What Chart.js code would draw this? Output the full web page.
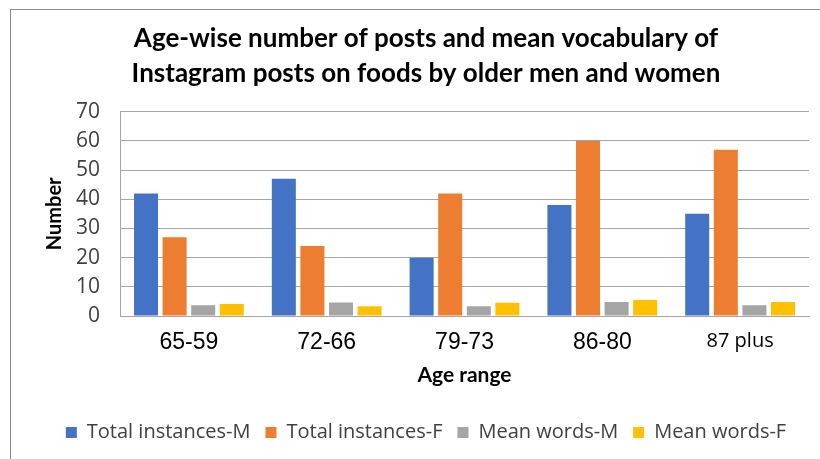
<!DOCTYPE html>
<html>
<head>
<meta charset="utf-8">
<script src="https://cdn.jsdelivr.net/npm/chart.js@4"></script>
<style>
    body { margin: 0; background: #fff; }
    #wrap { position: relative; width: 820px; height: 459px; overflow: hidden; }
    #frame { position: absolute; left: 10px; top: 9px; width: 830px; height: 470px; border: 1px solid #8c8c8c; box-sizing: border-box; }
    canvas { position: absolute; left: 0; top: 0; }
</style>
</head>
<body>
<div id="wrap">
    <div id="frame"></div>
    <canvas id="chart" width="820" height="459"></canvas>
</div>
<script>
// Data
const ageRanges = ['65-59', '72-66', '79-73', '86-80', '87 plus'];
const totalMale = [42, 47, 20, 38, 35];
const totalFemale = [27, 24, 42, 60, 57];
const meanWordsMale = [3.7, 4.6, 3.3, 4.8, 3.7];
const meanWordsFemale = [4.1, 3.3, 4.5, 5.5, 4.8];
const yTicks = [0, 10, 20, 30, 40, 50, 60, 70];

const barOpts = { barPercentage: 0.84, categoryPercentage: 0.83 };

const ctx = document.getElementById('chart').getContext('2d');
new Chart(ctx, {
    type: 'bar',
    data: {
        labels: ageRanges,
        datasets: [
            { label: 'Total instances-M', data: totalMale, backgroundColor: '#4472C4', ...barOpts },
            { label: 'Total instances-F', data: totalFemale, backgroundColor: '#ED7D31', ...barOpts },
            { label: 'Mean words-M', data: meanWordsMale, backgroundColor: '#A5A5A5', ...barOpts },
            { label: 'Mean words-F', data: meanWordsFemale, backgroundColor: '#FFC000', ...barOpts }
        ]
    },
    options: {
        responsive: false,
        animation: false,
        layout: { padding: { left: 43, right: 11, top: 0, bottom: 6.5 } },
        plugins: {
            title: {
                display: true,
                text: ['Age-wise number of posts and mean vocabulary of', 'Instagram posts on foods by older men and women'],
                color: '#000',
                font: { family: 'Lato', size: 26, weight: 'bold', lineHeight: 1.35 },
                padding: { top: 21, bottom: 20.5 }
            },
            legend: {
                position: 'bottom',
                labels: {
                    color: '#404040',
                    font: { family: 'Open Sans', size: 20 },
                    boxWidth: 11,
                    boxHeight: 11,
                    padding: 15
                }
            },
            tooltip: { enabled: false }
        },
        scales: {
            x: {
                grid: { display: false, drawTicks: false },
                border: { color: '#a6a6a6' },
                ticks: {
                    color: '#000',
                    padding: 13,
                    font: c => c.index === 4 ? { family: 'Open Sans', size: 20 } : { family: 'Liberation Sans', size: 23 }
                },
                title: {
                    display: true,
                    text: 'Age range',
                    color: '#000',
                    font: { family: 'Lato', size: 21, weight: 'bold' },
                    padding: { top: -7, bottom: 19.7 }
                }
            },
            y: {
                min: 0,
                max: 70,
                afterBuildTicks: axis => { axis.ticks = yTicks.map(v => ({ value: v })); },
                grid: { color: '#a6a6a6', drawTicks: false },
                border: { color: '#a6a6a6' },
                ticks: {
                    color: '#404040',
                    padding: 20,
                    font: { family: 'Open Sans', size: 21 }
                },
                title: {
                    display: true,
                    text: 'Number',
                    color: '#000',
                    font: { family: 'Lato', size: 20, weight: 'bold' },
                    padding: { top: 0, bottom: -11 }
                }
            }
        }
    }
});
</script>
</body>
</html>
